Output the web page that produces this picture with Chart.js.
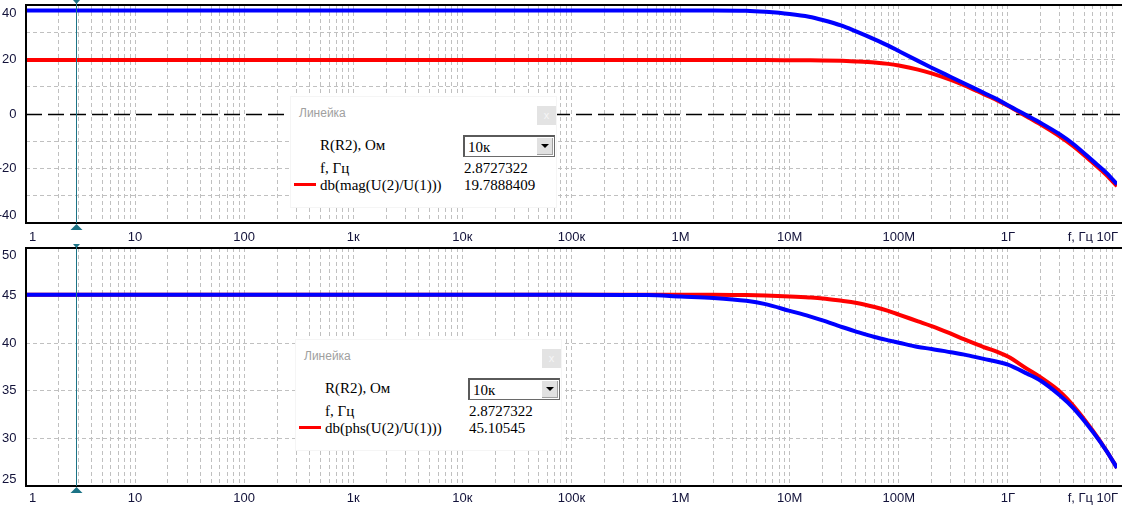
<!DOCTYPE html>
<html>
<head>
<meta charset="utf-8">
<script src="https://cdn.jsdelivr.net/npm/chart.js@4/dist/chart.umd.min.js"></script>
<style>
body{margin:0;background:#fff;width:1122px;height:510px;overflow:hidden;position:relative}
canvas{position:absolute;left:0}
#c1{top:0}
#c2{top:243px}
.ruler{position:absolute;width:267px;height:112px;background:#fff;border:1px solid #f5f5f5;box-sizing:border-box;z-index:2}
.ruler div{position:absolute}
.rt{left:8px;top:9px;font:12px "Liberation Sans",Arial,sans-serif;line-height:14px;color:#a0a0a0}
.rx{left:246px;top:9px;width:19px;height:19px;background:#e3e3e3;color:#f6f6f6;font:11px "Liberation Sans",Arial,sans-serif;line-height:18px;text-align:center}
.rl{font:15px "Liberation Serif","Times New Roman",serif;line-height:16px;color:#000;white-space:nowrap}
.combo{left:172px;top:38px;width:92px;height:22px;box-sizing:border-box;border:1px solid #6a6a6a;border-top:2px solid #5a5a5a;border-left:2px solid #5a5a5a;background:#fff}
.combo span{position:absolute;left:3px;top:1px;font:15px "Liberation Serif","Times New Roman",serif;line-height:18px}
.combo .btn{right:1px;top:1px;width:15px;height:16px;background:#e1e1e1;border-right:1px solid #a0a0a0;border-bottom:1px solid #a0a0a0}
.combo .btn i{position:absolute;left:4px;top:6px;width:0;height:0;border-left:4px solid transparent;border-right:4px solid transparent;border-top:4px solid #000}
.sw{left:3px;top:86px;width:22px;height:3px;background:#ff0000}
</style>
</head>
<body>
<canvas id="c1" width="1122" height="243"></canvas>
<canvas id="c2" width="1122" height="267"></canvas>
<script>
// frequencies in Hz
const freqs=[1,1e5,5e5,1e6,2e6,4e6,6e6,1e7,1.5e7,2e7,3e7,4e7,6e7,8e7,1e8,1.5e8,2e8,3e8,4e8,6e8,8e8,1e9,1.5e9,2e9,3e9,4e9,6e9,8e9,1e10];
const magBlue=[38.0,38.0,38.0,38.0,38.0,37.9,37.5,36.7,35.7,34.5,32.4,30.4,27.4,25.1,23.1,19.5,17.0,13.6,11.2,7.8,5.4,3.2,-0.6,-3.3,-7.5,-11.1,-17.2,-21.6,-25.8];
const magRed=[19.8,19.8,19.8,19.8,19.8,19.8,19.8,19.75,19.7,19.65,19.5,19.3,18.9,18.4,17.8,16.3,14.9,12.5,10.5,7.3,5.0,3.0,-1.0,-3.9,-8.3,-11.9,-17.9,-22.4,-26.5];
const phsBlue=[45.1,45.1,45.05,44.9,44.75,44.45,44.1,43.4,42.85,42.4,41.7,41.25,40.65,40.3,40.05,39.6,39.4,39.05,38.8,38.35,38.05,37.75,36.8,36.05,34.5,33.15,30.7,28.7,26.9];
const phsRed=[45.1,45.1,45.1,45.1,45.1,45.05,45.0,44.9,44.8,44.7,44.45,44.25,43.8,43.4,43.0,42.3,41.8,41.0,40.4,39.6,39.1,38.6,37.3,36.4,34.9,33.4,30.8,28.7,26.9];

const xTickVals=[1,10,100,1e3,1e4,1e5,1e6,1e7,1e8,1e9,1e10];
const xTickText=["1","10","100","1к","10к","100к","1М","10М","100М","1Г","10Г"];
const xUnit="f, Гц";
const magTicks=[40,20,0,-20,-40];
const phsTicks=[50,45,40,35,30,25];

const cursorF=2.8727322;
const cursorText="2.8727322";
const comboVal="10к";
const magReadout="19.7888409";
const phsReadout="45.10545";

const ink="#12123a", teal="#1c7386", gridCol="#c0c0c0";

// grid lines at 1..9 x every decade
const gridFreqs=[];
for(let e=0;e<10;e++){for(let m=1;m<10;m++){gridFreqs.push(m*Math.pow(10,e));}}

function pts(vals){
return freqs.map((f,i)=>({x:f,y:vals[i]}));
}

function panelPlugin(yLabels,clampPad,labelDy,showZero,lineTop){
return {
id:'panel',
beforeDatasetsDraw(chart){
if(!showZero)return;
const {ctx,chartArea:a,scales:{y}}=chart;
const py=Math.round(y.getPixelForValue(0))+0.5;
ctx.save();
ctx.strokeStyle="#000";ctx.lineWidth=1.5;ctx.setLineDash([16,6]);
ctx.beginPath();ctx.moveTo(a.left,py);ctx.lineTo(chart.width,py);ctx.stroke();
ctx.restore();
},
afterDraw(chart){
const {ctx,chartArea:a,scales:{x,y}}=chart;
ctx.save();
ctx.setLineDash([]);
// frame: left, top, bottom
ctx.strokeStyle="#000";ctx.lineWidth=2;
ctx.beginPath();
ctx.moveTo(chart.width,a.top);ctx.lineTo(a.left,a.top);ctx.lineTo(a.left,a.bottom);ctx.lineTo(chart.width,a.bottom);
ctx.stroke();
// y labels
ctx.font='13px "Liberation Sans", Arial, sans-serif';
ctx.fillStyle=ink;ctx.textAlign='right';ctx.textBaseline='middle';
yLabels.forEach(v=>{
let py=y.getPixelForValue(v);
py=Math.min(Math.max(py,a.top+clampPad),a.bottom-clampPad);
ctx.fillText(String(v),16.5,py);
});
// x labels
const ly=a.bottom+labelDy;
xTickVals.forEach((v,i)=>{
const px=x.getPixelForValue(v);
if(i===0){ctx.textAlign='left';ctx.fillText(xTickText[i],px+3,ly);}
else if(i===xTickVals.length-1){
ctx.textAlign='right';ctx.fillText(xTickText[i],px+1,ly);
ctx.fillText(xUnit,px-24,ly);
}
else{ctx.textAlign='center';ctx.fillText(xTickText[i],px,ly);}
});
// cursor
const cx=Math.round(x.getPixelForValue(cursorF))+0.5;
ctx.strokeStyle=teal;ctx.lineWidth=1;
ctx.beginPath();ctx.moveTo(cx,lineTop);ctx.lineTo(cx,a.bottom);ctx.stroke();
ctx.fillStyle=teal;
ctx.beginPath();ctx.moveTo(cx,a.bottom+1);ctx.lineTo(cx-6,a.bottom+7);ctx.lineTo(cx+6,a.bottom+7);ctx.closePath();ctx.fill();
ctx.beginPath();ctx.moveTo(cx-3.5,lineTop);ctx.lineTo(cx+3.5,lineTop);ctx.lineTo(cx,lineTop+4);ctx.closePath();ctx.fill();
ctx.restore();
}
};
}

function makeChart(id,blue,red,yMin,yMax,step,pad,plugin){
return new Chart(document.getElementById(id),{
type:'line',
data:{datasets:[
{data:pts(blue),borderColor:'#0000ff',borderWidth:4,pointRadius:0,cubicInterpolationMode:'monotone'},
{data:pts(red),borderColor:'#ff0000',borderWidth:4,pointRadius:0,cubicInterpolationMode:'monotone'}
]},
options:{
responsive:false,animation:false,events:[],
layout:{padding:pad},
plugins:{legend:{display:false},tooltip:{enabled:false}},
scales:{
x:{type:'logarithmic',min:1,max:1e10,
ticks:{display:false,autoSkip:false},
afterBuildTicks:s=>{s.ticks=gridFreqs.map(v=>({value:v}));},
grid:{drawTicks:false,color:gridCol,lineWidth:1},
border:{display:false,dash:[4,3]}},
y:{type:'linear',min:yMin,max:yMax,
ticks:{display:false,stepSize:step},
grid:{drawTicks:false,lineWidth:1,color:c=>(c.tick&&c.tick.value===0&&yMin<0)?'rgba(0,0,0,0)':gridCol},
border:{display:false,dash:[4,3]}}
}
},
plugins:[plugin]
});
}

makeChart('c1',magBlue,magRed,-40,40,10,{left:26,top:5,right:5,bottom:20},panelPlugin(magTicks,8,14,true,0));
makeChart('c2',phsBlue,phsRed,25,50,5,{left:26,top:5,right:5,bottom:24},panelPlugin(phsTicks,7,12,false,1));

function ruler(x0,y0,expr,val){
const box=document.createElement('div');
box.className='ruler';
box.style.left=x0+'px';box.style.top=y0+'px';
box.innerHTML='<div class="rt">Линейка</div><div class="rx">x</div>'+
'<div class="rl" style="left:29px;top:40px">R(R2), Ом</div>'+
'<div class="combo"><span>'+comboVal+'</span><div class="btn"><i></i></div></div>'+
'<div class="rl" style="left:29px;top:63px">f, Гц</div>'+
'<div class="rl" style="left:173px;top:63px">'+cursorText+'</div>'+
'<div class="sw"></div>'+
'<div class="rl" style="left:29px;top:80px">'+expr+'</div>'+
'<div class="rl" style="left:173px;top:80px">'+val+'</div>';
document.body.appendChild(box);
}
ruler(290,96,'db(mag(U(2)/U(1)))',magReadout);
ruler(295,339,'db(phs(U(2)/U(1)))',phsReadout);
</script>
</body>
</html>
